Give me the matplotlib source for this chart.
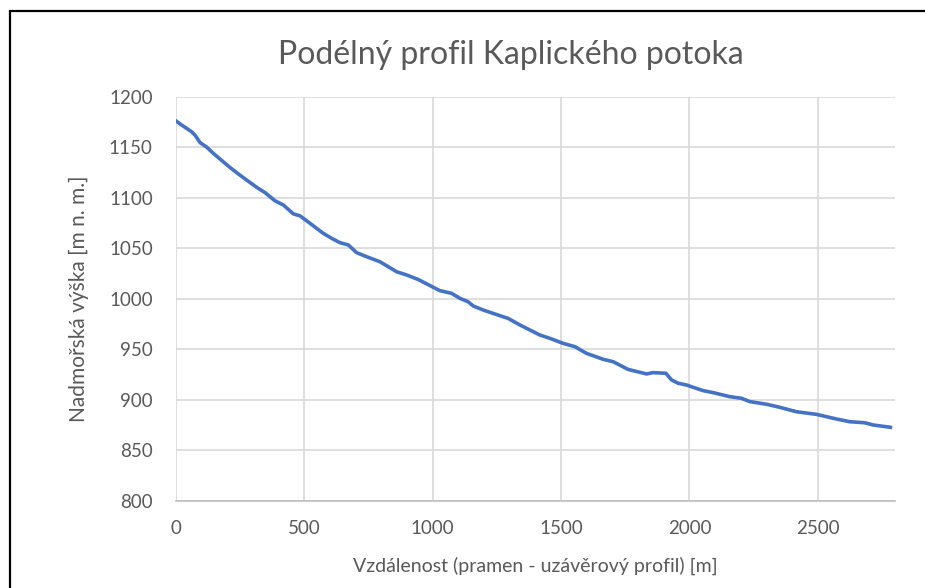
import matplotlib
matplotlib.use("Agg")
import matplotlib.pyplot as plt
from matplotlib.patches import Rectangle

# ── Data ──────────────────────────────────────────────────────────────────────
distance_m = [0, 23, 62, 75, 95, 121, 146, 211, 244, 276, 315, 348, 386, 419,
              458, 484, 523, 574, 607, 639, 672, 704, 743, 795, 860, 899, 944,
              1028, 1074, 1106, 1138, 1158, 1197, 1255, 1294, 1340, 1418, 1456,
              1508, 1554, 1599, 1664, 1703, 1761, 1833, 1858, 1908, 1930, 1956,
              1988, 2014, 2053, 2092, 2157, 2202, 2235, 2300, 2351, 2416, 2494,
              2572, 2624, 2682, 2714, 2782]
elevation_m = [1176.2, 1172.0, 1165.3, 1162.0, 1154.5, 1150.0, 1144.0, 1130.0,
               1123.5, 1117.5, 1110.3, 1105.0, 1097.0, 1092.8, 1084.0, 1082.0,
               1074.6, 1064.8, 1059.8, 1055.5, 1053.2, 1045.6, 1041.6, 1036.6,
               1026.7, 1023.5, 1019.0, 1008.0, 1005.3, 1000.4, 997.0, 992.8,
               988.8, 983.8, 980.5, 974.0, 964.0, 960.8, 955.8, 952.5, 945.9,
               940.0, 937.6, 930.0, 925.5, 926.8, 926.2, 919.6, 916.3, 914.6,
               912.3, 909.0, 907.0, 903.0, 901.4, 898.1, 895.5, 892.5, 888.1,
               885.5, 880.9, 878.2, 877.2, 875.0, 872.7]

x_ticks = [0, 500, 1000, 1500, 2000, 2500]
y_ticks = [800, 850, 900, 950, 1000, 1050, 1100, 1150, 1200]

TXT = "#595959"
plt.rcParams["font.family"] = ["Lato", "DejaVu Sans"]

fig = plt.figure(figsize=(9.25, 5.88), dpi=100)
fig.patch.set_facecolor("white")

# chart frame (runs off the right/bottom edge as in the screenshot)
fig.patches.append(Rectangle((10 / 925, -0.05), 1.0, (588 - 11) / 588 + 0.05,
                             transform=fig.transFigure, fill=False,
                             edgecolor="black", linewidth=1.6, zorder=0))

ax = fig.add_axes([175.7 / 925, (588 - 500.7) / 588,
                   (895 - 175.7) / 925, (500.7 - 96.7) / 588])
ax.plot(distance_m, elevation_m, color="#4472c4", lw=2.6,
        solid_joinstyle="round", zorder=3)

ax.set_xlim(0, 2800)
ax.set_ylim(800, 1200)
ax.set_xticks(x_ticks)
ax.set_yticks(y_ticks)
ax.grid(True, color="#d9d9d9", lw=1.2)
ax.set_axisbelow(True)
for s in ("top", "right", "left"):
    ax.spines[s].set_visible(False)
ax.spines["bottom"].set_color("#bfbfbf")
ax.spines["bottom"].set_linewidth(1.2)
ax.tick_params(length=0, labelsize=13.5, colors=TXT, pad=14)
ax.tick_params(axis="y", pad=16.5)

ax.set_xlabel("Vzdálenost (pramen - uzávěrový profil) [m]", fontsize=14,
              color=TXT, labelpad=14)
ax.set_ylabel("Nadmořská výška [m n. m.]", fontsize=15, color=TXT,
              labelpad=14)
fig.text(511 / 925, (588 - 55) / 588, "Podélný profil Kaplického potoka",
         fontsize=23, color=TXT, ha="center", va="center")

fig.savefig("out.png", dpi=100, facecolor="white")
